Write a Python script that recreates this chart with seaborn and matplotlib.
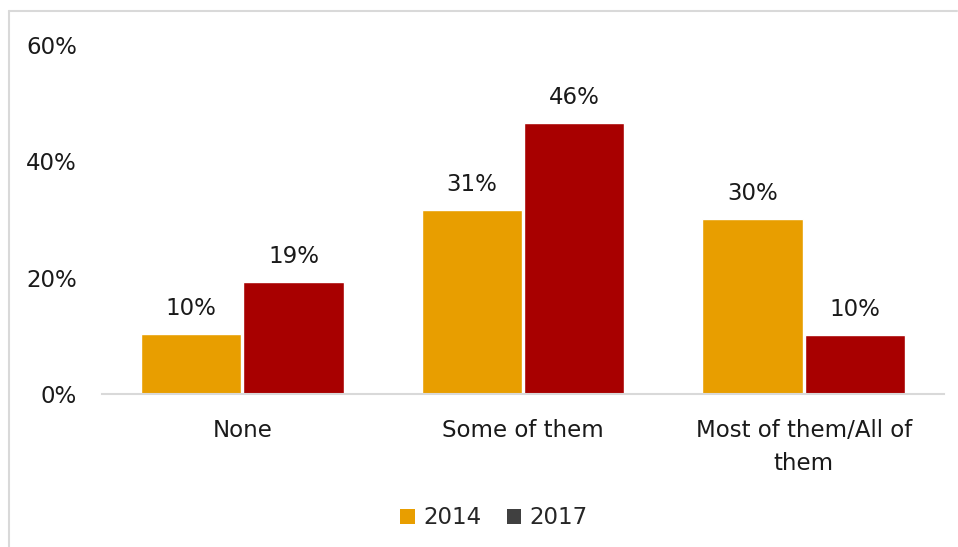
import matplotlib
matplotlib.use("Agg")
import matplotlib.pyplot as plt
from matplotlib.patches import Patch
from matplotlib.lines import Line2D
import seaborn as sns
import pandas as pd

categories = ["None", "Some of them", "Most of them/All of them"]
tick_labels = ["None", "Some of them", "Most of them/All of\nthem"]
years = ["2014", "2017"]
values_2014 = [10.4, 31.7, 30.1]
values_2017 = [19.2, 46.6, 10.1]
labels_2014 = ["10%", "31%", "30%"]
labels_2017 = ["19%", "46%", "10%"]
bar_colors = {"2014": "#E89E00", "2017": "#A80000"}
legend_colors = {"2014": "#E89E00", "2017": "#404040"}

df = pd.DataFrame({
    "category": categories * 2,
    "year": ["2014"] * 3 + ["2017"] * 3,
    "value": values_2014 + values_2017,
})

sns.set_theme(style="white")
plt.rcParams["font.family"] = ["DejaVu Sans"]
FS = 16.5

fig = plt.figure(figsize=(9.58, 5.47), dpi=100)
ax = fig.add_axes([102 / 958, 1 - 394 / 547, (944 - 102) / 958, (394 - 45) / 547])

sns.barplot(data=df, x="category", y="value", hue="year", order=categories,
            hue_order=years, palette=bar_colors, width=0.73, gap=0.02,
            saturation=1, legend=False, ax=ax)

for container, labs in zip(ax.containers, [labels_2014, labels_2017]):
    ax.bar_label(container, labels=labs, padding=10, fontsize=FS, color="#1a1a1a")

ax.set_ylim(0, 60)
ax.set_xlim(-0.5, 2.5)
ax.set_yticks([0, 20, 40, 60])
ax.set_yticklabels(["0%", "20%", "40%", "60%"], fontsize=FS, color="#1a1a1a")
ax.set_xticks(range(len(categories)))
ax.set_xticklabels(tick_labels, fontsize=FS, color="#1a1a1a", linespacing=1.55)
ax.tick_params(axis="y", length=0, pad=18)
ax.tick_params(axis="x", length=0, pad=18)
ax.set_xlabel("")
ax.set_ylabel("")
for s in ["top", "right", "left"]:
    ax.spines[s].set_visible(False)
ax.spines["bottom"].set_color("#D9D9D9")
ax.spines["bottom"].set_linewidth(1.5)

handles = [Patch(facecolor=legend_colors[y], edgecolor="none", label=y) for y in years]
fig.legend(handles=handles, loc="center", bbox_to_anchor=(494 / 958, 1 - 518 / 547),
           ncol=2, frameon=False, fontsize=FS, handlelength=0.65, handleheight=0.65,
           handletextpad=0.35, columnspacing=1.1)

# outer frame lines (left and top)
fig.add_artist(Line2D([9 / 958, 9 / 958], [0, 1 - 11 / 547], transform=fig.transFigure,
                      color="#D9D9D9", lw=1.5))
fig.add_artist(Line2D([9 / 958, 957 / 958], [1 - 11 / 547, 1 - 11 / 547],
                      transform=fig.transFigure, color="#D9D9D9", lw=1.5))

fig.savefig("out.png", dpi=100, facecolor="white")
